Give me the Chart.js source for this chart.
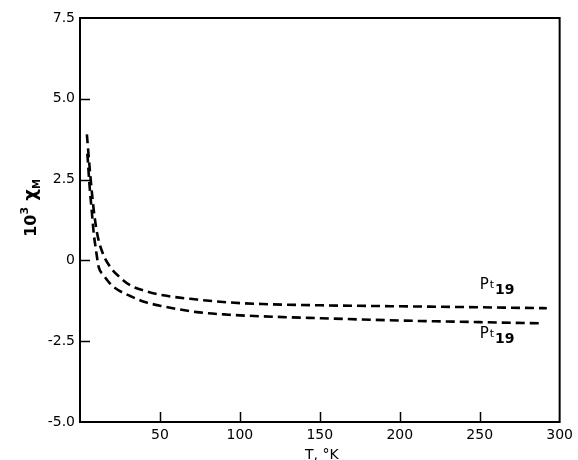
<!DOCTYPE html>
<html>
<head>
<meta charset="utf-8">
<script src="https://cdn.jsdelivr.net/npm/chart.js@4"></script>
<style>
html,body{margin:0;padding:0;background:#fff;}
#wrap{width:578px;height:460px;}
</style>
</head>
<body>
<div id="wrap"><canvas id="c" width="578" height="460"></canvas></div>
<script>
// Temperature (K) and 10^3 chi_M values
const upperT = [4.3, 6.5, 8.5, 10.7, 14, 19, 24, 31.4, 41, 52, 73, 93, 114, 151, 200, 250, 292];
const upperV = [3.9, 2.6, 1.6, 0.84, 0.25, -0.21, -0.48, -0.77, -0.95, -1.08, -1.21, -1.30, -1.35, -1.39, -1.42, -1.45, -1.48];
const lowerT = [4.6, 6.0, 7.4, 8.6, 10.2, 11.7, 14.6, 18.5, 23.3, 31.4, 40, 52, 73, 93, 114, 151, 200, 250, 290];
const lowerV = [3.3, 2.3, 1.5, 0.84, 0.25, -0.21, -0.45, -0.7, -0.9, -1.1, -1.28, -1.42, -1.60, -1.68, -1.73, -1.79, -1.86, -1.91, -1.95];
const xTicks = [0, 50, 100, 150, 200, 250, 300];
const yTicks = [-5, -2.5, 0, 2.5, 5, 7.5];
const curveLabels = [
  {main: 'Pt', sub: '19', T: 250, v: -0.87},
  {main: 'Pt', sub: '19', T: 250, v: -2.41}
];

const toXY = (ts, vs) => ts.map((t, i) => ({x: t, y: vs[i]}));
const FONT = '"DejaVu Sans", Arial, sans-serif';

const decor = {
  id: 'decor',
  afterDraw(chart) {
    const ctx = chart.ctx;
    const xs = chart.scales.x, ys = chart.scales.y;
    const a = chart.chartArea;
    ctx.save();
    ctx.strokeStyle = '#000';
    ctx.lineWidth = 2;
    ctx.strokeRect(a.left, a.top, a.right - a.left, a.bottom - a.top);
    ctx.lineWidth = 1.5;
    // inward tick marks
    yTicks.forEach(v => {
      if (v === -5 || v === 7.5) return;
      const y = Math.round(ys.getPixelForValue(v)) + 0.5;
      ctx.beginPath(); ctx.moveTo(a.left, y); ctx.lineTo(a.left + 10, y); ctx.stroke();
    });
    xTicks.forEach(t => {
      if (t === 0 || t === 300) return;
      const x = Math.round(xs.getPixelForValue(t)) + 0.5;
      ctx.beginPath(); ctx.moveTo(x, a.bottom); ctx.lineTo(x, a.bottom - 10); ctx.stroke();
    });
    // curve labels
    ctx.fillStyle = '#000';
    ctx.textBaseline = 'alphabetic';
    curveLabels.forEach(l => {
      const x = xs.getPixelForValue(l.T), y = ys.getPixelForValue(l.v);
      ctx.font = '15px ' + FONT;
      ctx.textAlign = 'left';
      ctx.fillText('P', x, y);
      let w = ctx.measureText('P').width;
      ctx.font = '11px ' + FONT;
      ctx.fillText('t', x + w + 1, y - 1);
      w += ctx.measureText('t').width + 2;
      ctx.font = 'bold 14px ' + FONT;
      ctx.fillText(l.sub, x + w, y + 5);
    });
    // x axis title
    ctx.font = '14px ' + FONT;
    ctx.textAlign = 'center';
    ctx.textBaseline = 'top';
    ctx.fillText('T, °K', xs.getPixelForValue(150) + 2, 448);
    // y axis title (rotated)
    ctx.translate(36, 208);
    ctx.rotate(-Math.PI / 2);
    ctx.textAlign = 'left';
    ctx.textBaseline = 'alphabetic';
    const parts = [
      {t: '10', f: 'bold 16px ', dy: 0},
      {t: '3', f: 'bold 11px ', dy: -8},
      {t: ' χ', f: 'bold 18px ', dy: 0},
      {t: 'M', f: 'bold 10px ', dy: 4}
    ];
    let total = 0;
    parts.forEach(p => { ctx.font = p.f + FONT; p.w = ctx.measureText(p.t).width; total += p.w; });
    let cx = -total / 2;
    parts.forEach(p => { ctx.font = p.f + FONT; ctx.fillText(p.t, cx, p.dy); cx += p.w; });
    ctx.restore();
  }
};

new Chart(document.getElementById('c'), {
  type: 'scatter',
  data: {
    datasets: [
      {data: toXY(upperT, upperV), showLine: true, borderColor: '#000', borderWidth: 2.6, borderDash: [9, 5], pointRadius: 0, cubicInterpolationMode: 'monotone', fill: false},
      {data: toXY(lowerT, lowerV), showLine: true, borderColor: '#000', borderWidth: 2.6, borderDash: [9, 5], pointRadius: 0, cubicInterpolationMode: 'monotone', fill: false}
    ]
  },
  options: {
    responsive: false,
    animation: false,
    layout: {padding: {left: 0, top: 18, right: 15, bottom: 0}},
    plugins: {legend: {display: false}, tooltip: {enabled: false}},
    scales: {
      x: {
        type: 'linear', min: 0, max: 300,
        afterBuildTicks: s => { s.ticks = xTicks.map(v => ({value: v})); },
        afterFit: s => { s.height = 38; },
        grid: {display: false, drawTicks: false},
        border: {display: false},
        ticks: {padding: 5, color: '#000', font: {family: FONT, size: 14}, maxRotation: 0,
          callback: v => v === 0 ? '' : String(v)}
      },
      y: {
        type: 'linear', min: -5, max: 7.5,
        afterBuildTicks: s => { s.ticks = yTicks.map(v => ({value: v})); },
        afterFit: s => { s.width = 80; },
        grid: {display: false, drawTicks: false},
        border: {display: false},
        ticks: {padding: 5, color: '#000', font: {family: FONT, size: 14},
          callback: v => v === 0 ? '0' : (v < 0 ? '-' + Math.abs(v).toFixed(1) : v.toFixed(1))}
      }
    }
  },
  plugins: [decor]
});
</script>
</body>
</html>
